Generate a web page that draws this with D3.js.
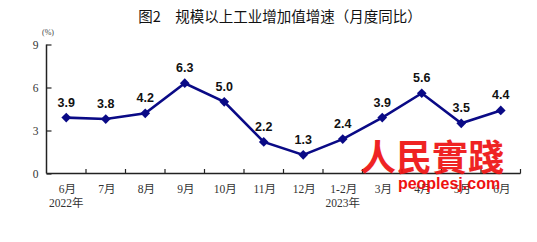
<!DOCTYPE html>
<html>
<head>
<meta charset="utf-8">
<script src="https://cdn.jsdelivr.net/npm/d3@7"></script>
<style>
  html, body { margin: 0; padding: 0; background: #fff; }
  svg { display: block; }
</style>
</head>
<body>
<svg id="chart" width="537" height="242"></svg>
<script>
// 月份 / 年份标签
var months = ["6月", "7月", "8月", "9月", "10月", "11月", "12月", "1-2月", "3月", "4月", "5月", "6月"];
var years = ["2022年", "", "", "", "", "", "", "2023年", "", "", "", ""];
// 增速 (%)
var growth = [3.9, 3.8, 4.2, 6.3, 5.0, 2.2, 1.3, 2.4, 3.9, 5.6, 3.5, 4.4];
var yTicks = [0, 3, 6, 9];

var svg = d3.select("#chart");

var x = d3.scaleBand().domain(d3.range(months.length)).range([46.5, 520.5]);
var y = d3.scaleLinear().domain([0, 9]).range([173.5, 44.5]);

// 标题
svg.append("text")
    .attr("x", 280).attr("y", 22)
    .attr("text-anchor", "middle")
    .attr("font-family", "'Noto Sans CJK SC', sans-serif")
    .attr("font-size", 14.5)
    .attr("fill", "#111")
    .text("图2　规模以上工业增加值增速（月度同比）");

svg.append("text")
    .attr("x", 48).attr("y", 35)
    .attr("text-anchor", "middle")
    .attr("font-family", "'Liberation Serif', serif")
    .attr("font-size", 8)
    .attr("fill", "#444")
    .text("(%)");

// y轴
var yAxis = d3.axisLeft(y).tickValues(yTicks).tickSize(-5).tickPadding(8);
var gy = svg.append("g").attr("transform", "translate(46.5,0)").call(yAxis);
gy.select(".domain").attr("stroke", "#222").attr("stroke-width", 1.5).attr("d", "M0," + y(9) + "V" + y(0));
gy.selectAll(".tick line").attr("stroke", "#222").attr("stroke-width", 1.2);
gy.selectAll(".tick text")
    .attr("font-family", "'Liberation Serif', serif")
    .attr("font-size", 11.5)
    .attr("fill", "#333");

// x轴
var gx = svg.append("g").attr("transform", "translate(0," + y(0) + ")");
gx.append("line")
    .attr("x1", x.range()[0]).attr("x2", x.range()[1])
    .attr("stroke", "#222").attr("stroke-width", 1.5);
gx.selectAll("line.tk").data(d3.range(1, months.length + 1)).enter()
    .append("line").attr("class", "tk")
    .attr("x1", function (d) { return x.range()[0] + d * x.bandwidth(); })
    .attr("x2", function (d) { return x.range()[0] + d * x.bandwidth(); })
    .attr("y1", 0).attr("y2", -4.5)
    .attr("stroke", "#222").attr("stroke-width", 1.2);
gx.selectAll("text.m").data(months).enter()
    .append("text").attr("class", "m")
    .attr("x", function (d, i) { return x(i) + x.bandwidth() / 2 + 1; })
    .attr("y", 19)
    .attr("text-anchor", "middle")
    .attr("font-family", "'Liberation Serif', 'Noto Sans CJK SC', serif")
    .attr("font-size", 11.5)
    .attr("fill", "#333")
    .text(function (d) { return d; });
gx.selectAll("text.yr").data(years).enter()
    .append("text").attr("class", "yr")
    .attr("x", function (d, i) { return x(i) + x.bandwidth() / 2; })
    .attr("y", 33)
    .attr("text-anchor", "middle")
    .attr("font-family", "'Liberation Serif', 'Noto Sans CJK SC', serif")
    .attr("font-size", 11.5)
    .attr("fill", "#333")
    .text(function (d) { return d; });

// 折线
var cx = function (d, i) { return x(i) + x.bandwidth() / 2; };
var line = d3.line()
    .x(function (d, i) { return cx(d, i); })
    .y(function (d) { return y(d); });

svg.append("path")
    .datum(growth)
    .attr("d", line)
    .attr("fill", "none")
    .attr("stroke", "#0a0a86")
    .attr("stroke-width", 2.6);

var diamond = d3.symbol().type(d3.symbolDiamond2).size(60);
svg.append("g").selectAll("path").data(growth).enter()
    .append("path")
    .attr("d", diamond)
    .attr("transform", function (d, i) { return "translate(" + cx(d, i) + "," + y(d) + ")"; })
    .attr("fill", "#0a0a86");

svg.append("g").selectAll("text").data(growth).enter()
    .append("text")
    .attr("x", cx)
    .attr("y", function (d) { return y(d) - 11; })
    .attr("text-anchor", "middle")
    .attr("font-family", "'Liberation Sans', Arial, sans-serif")
    .attr("font-weight", "bold")
    .attr("font-size", 12.5)
    .attr("fill", "#111")
    .text(function (d) { return d.toFixed(1); });

// 水印
svg.append("text")
    .attr("x", 432).attr("y", 171)
    .attr("text-anchor", "middle")
    .attr("font-family", "'Noto Sans CJK TC', serif")
    .attr("font-weight", "bold")
    .attr("font-size", 36)
    .attr("fill", "#ee1111")
    .attr("opacity", 0.92)
    .text("人民實踐");
svg.append("text")
    .attr("x", 449).attr("y", 189)
    .attr("text-anchor", "middle")
    .attr("font-family", "'Liberation Sans', Arial, sans-serif")
    .attr("font-weight", "bold")
    .attr("font-size", 16)
    .attr("fill", "#ee1111")
    .text("peoplesj.com");
</script>
</body>
</html>
